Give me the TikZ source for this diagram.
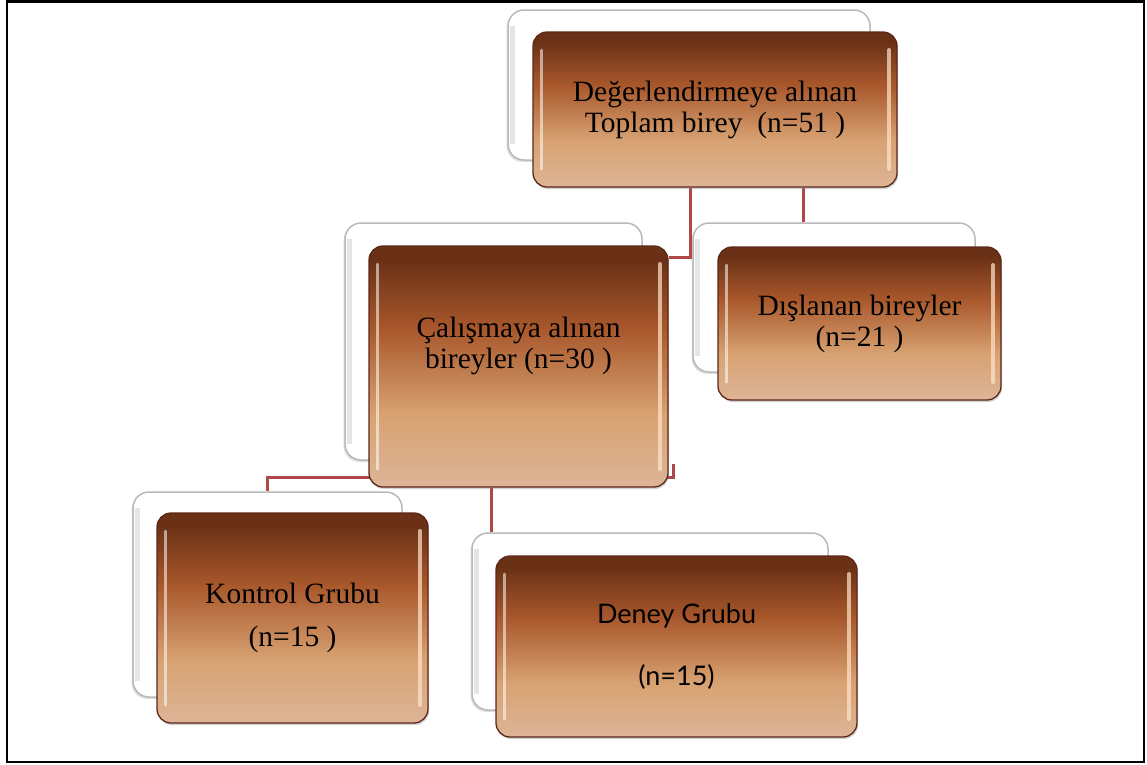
\documentclass[tikz,border=0pt]{standalone}
\usepackage{fontspec}
\setmainfont{Liberation Serif}
\newfontfamily\gillfont{Lato}
\usetikzlibrary{shadows,backgrounds}

\definecolor{cardtop}{HTML}{6A3116}
\definecolor{cardmid}{HTML}{A8572B}
\definecolor{cardlow}{HTML}{D8A272}
\definecolor{cardbase}{HTML}{DDB597}
\definecolor{cardedge}{HTML}{5E2818}
\definecolor{linkred}{HTML}{B04848}

\pgfdeclareverticalshading{cardshade}{100bp}{color(0bp)=(cardbase); color(25bp)=(cardbase); color(40bp)=(cardlow); color(58bp)=(cardmid); color(72bp)=(cardtop); color(100bp)=(cardtop)}

\tikzset{
    backcard/.style={draw=gray!55, line width=1.5pt, fill=white, rounded corners=16pt, inner sep=0pt,
        drop shadow={opacity=0.25, shadow xshift=-1.5pt, shadow yshift=-2pt},
        path picture={
            \draw[gray!20, line width=5pt]
                ([xshift=4pt,yshift=-16pt]path picture bounding box.north west) -- ([xshift=4pt,yshift=16pt]path picture bounding box.south west);
        }},
    frontcard/.style={draw=cardedge, line width=1.3pt, shading=cardshade, rounded corners=14pt,
        inner sep=0pt, align=center, font=\fontsize{29.5}{31}\selectfont,
        drop shadow={opacity=0.35, shadow xshift=1pt, shadow yshift=-2pt},
        path picture={
            \draw[white, opacity=0.55, line width=3pt, line cap=round]
                ([xshift=8pt,yshift=-18pt]path picture bounding box.north west) -- ([xshift=8pt,yshift=18pt]path picture bounding box.south west);
            \draw[orange!20, opacity=0.7, line width=4pt, line cap=round]
                ([xshift=-8pt,yshift=-18pt]path picture bounding box.north east) -- ([xshift=-8pt,yshift=18pt]path picture bounding box.south east);
        }},
    link/.style={draw=linkred, line width=3pt}
}

\begin{document}
\begin{tikzpicture}[x=1pt,y=-1pt]
    \useasboundingbox (0,0) rectangle (1147,764);

    %Toplam
    \node[backcard, minimum width=362pt, minimum height=150pt] (topW) at (689,85) {};
    \node[frontcard, minimum width=364pt, minimum height=155pt] (top) at (715,109.5) {Değerlendirmeye alınan\\Toplam birey~~(n=51~)};

    %Calisma
    \node[backcard, minimum width=297pt, minimum height=237pt] (calW) at (493.5,341.5) {};
    \node[frontcard, minimum width=299pt, minimum height=241pt, text depth=47pt] (cal) at (518.5,366.5) {Çalışmaya alınan\\bireyler (n=30~)};

    %Dislanan
    \node[backcard, minimum width=282pt, minimum height=149pt] (disW) at (834,297.5) {};
    \node[frontcard, minimum width=283pt, minimum height=153pt] (dis) at (859.5,323.5) {Dışlanan bireyler\\(n=21~)};

    %Kontrol
    \node[backcard, minimum width=269pt, minimum height=205pt] (konW) at (267.5,594.5) {};
    \node[frontcard, minimum width=271pt, minimum height=210pt] (kon) at (292.5,618) {Kontrol Grubu\\[12pt](n=15~)};

    %Deney
    \node[backcard, minimum width=356pt, minimum height=177pt] (denW) at (650,621.5) {};
    \node[frontcard, minimum width=361pt, minimum height=181pt, font=\gillfont\fontsize{27}{31}\selectfont] (den) at (676.5,646.5) {Deney Grubu\\[31pt](n=15)};

    \begin{pgfonlayer}{background}
        \fill[white] (0,0) rectangle (1147,764);
        \draw[link] ([xshift=-25pt]top.south) |- ([yshift=-12pt]cal.north east);
        \draw[link] ([xshift=88pt]top.south) -- ([xshift=88pt]top.south |- disW.north);
        \draw[link] ([xshift=5pt,yshift=24pt]cal.south east) -- ([xshift=5pt,yshift=10pt]cal.south east) -| (konW.north);
        \draw[link] ([xshift=-27pt]cal.south) -- ([xshift=-27pt]cal.south |- denW.north);
    \end{pgfonlayer}

    %Rahmen
    \draw[line width=2.5pt] (7,1.5) rectangle (1144,762);
\end{tikzpicture}
\end{document}
